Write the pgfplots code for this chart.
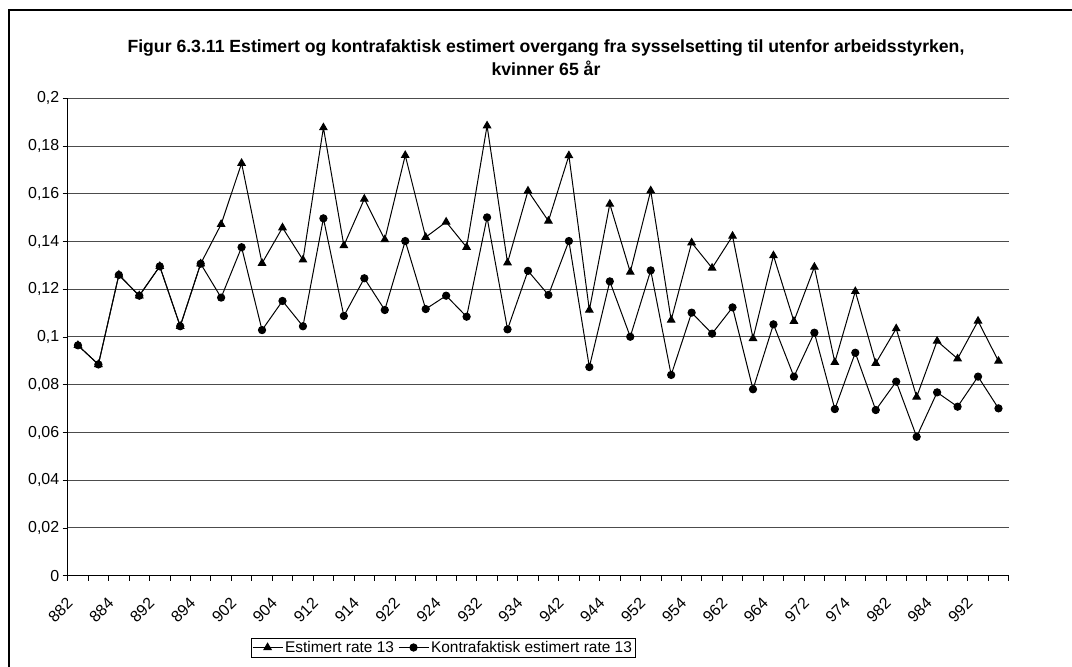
\documentclass[border=0pt]{standalone}
\usepackage{fontspec}
\setmainfont{Liberation Sans}
\usepackage{pgfplots}
\pgfplotsset{compat=1.18}
\begin{document}
\begin{tikzpicture}[x=1bp,y=1bp]
\useasboundingbox (0,0) rectangle (1072,667);
\draw[line width=2.5bp] (9,-5) -- (9,657) -- (1080,657);
\node[font=\bfseries\fontsize{17.7}{20}\selectfont, anchor=base] at (546,614) {Figur 6.3.11 Estimert og kontrafaktisk estimert overgang fra sysselsetting til utenfor arbeidsstyrken,};
\node[font=\bfseries\fontsize{17.7}{20}\selectfont, anchor=base] at (546,591) {kvinner 65 år};
\begin{axis}[
  at={(67.7bp,91.3bp)}, anchor=south west, scale only axis,
  width=941bp, height=477.4bp,
  xmin=0.5, xmax=46.5, ymin=0, ymax=0.2,
  axis x line*=bottom, axis y line*=left,
  axis line style={black, line width=1bp, -},
  tick align=outside, major tick length=0pt, minor tick length=5bp,
  tick style={black, line width=0.8bp},
  xtick={1,3,...,45},
  xticklabels={882,884,892,894,902,904,912,914,922,924,932,934,942,944,952,954,962,964,972,974,982,984,992},
  minor xtick={0.5,1.5,...,46.5},
  xticklabel style={xshift=-8bp, yshift=-25bp, rotate=45, anchor=east, inner sep=0pt, font=\fontsize{16}{16}\selectfont},
  ytick={0,0.02,0.04,0.06,0.08,0.1,0.12,0.14,0.16,0.18,0.2},
  minor ytick={0,0.02,0.04,0.06,0.08,0.1,0.12,0.14,0.16,0.18,0.2},
  yticklabels={0,{0,02},{0,04},{0,06},{0,08},{0,1},{0,12},{0,14},{0,16},{0,18},{0,2}},
  yticklabel style={font=\fontsize{16}{16}\selectfont, xshift=-5bp},
  ymajorgrids, major grid style={black!70, line width=1bp},
  legend style={at={(0.3988,-0.1504)}, anchor=center, legend columns=2, draw=black, line width=0.6bp,
    font=\fontsize{15.5}{18}\selectfont, inner sep=1bp,
    /tikz/every even column/.append style={column sep=2bp}},
  legend image code/.code={\draw[#1, mark repeat=2, mark phase=2] plot coordinates {(0bp,0bp) (15bp,0bp) (30bp,0bp)};},
  clip=false,
]
\addplot[black, line width=1bp, mark=triangle*, mark size=4.2bp, mark options={solid}] coordinates {
(1,0.0965) (2,0.0885) (3,0.1260) (4,0.1173) (5,0.1296) (6,0.1045) (7,0.1307) (8,0.1472) (9,0.1728) (10,0.1309)
(11,0.1458) (12,0.1323) (13,0.1877) (14,0.1383) (15,0.1578) (16,0.1408) (17,0.1761) (18,0.1418) (19,0.1482) (20,0.1376)
(21,0.1885) (22,0.1311) (23,0.1612) (24,0.1486) (25,0.1760) (26,0.1113) (27,0.1557) (28,0.1272) (29,0.1613) (30,0.1071)
(31,0.1395) (32,0.1289) (33,0.1423) (34,0.0994) (35,0.1341) (36,0.1066) (37,0.1293) (38,0.0894) (39,0.1191) (40,0.0890)
(41,0.1035) (42,0.0749) (43,0.0983) (44,0.0909) (45,0.1067) (46,0.0899)
};
\addlegendentry{Estimert rate 13}
\addplot[black, line width=1bp, mark=*, mark size=3.6bp, mark options={solid}] coordinates {
(1,0.0965) (2,0.0885) (3,0.1260) (4,0.1173) (5,0.1296) (6,0.1045) (7,0.1307) (8,0.1165) (9,0.1376) (10,0.1029)
(11,0.1151) (12,0.1045) (13,0.1497) (14,0.1088) (15,0.1246) (16,0.1113) (17,0.1402) (18,0.1117) (19,0.1173) (20,0.1085)
(21,0.1501) (22,0.1032) (23,0.1277) (24,0.1176) (25,0.1402) (26,0.0874) (27,0.1233) (28,0.1001) (29,0.1279) (30,0.0841)
(31,0.1102) (32,0.1014) (33,0.1124) (34,0.0781) (35,0.1053) (36,0.0834) (37,0.1018) (38,0.0698) (39,0.0934) (40,0.0694)
(41,0.0813) (42,0.0582) (43,0.0768) (44,0.0708) (45,0.0834) (46,0.0701)
};
\addlegendentry{Kontrafaktisk estimert rate 13}
\end{axis}
\end{tikzpicture}
\end{document}
